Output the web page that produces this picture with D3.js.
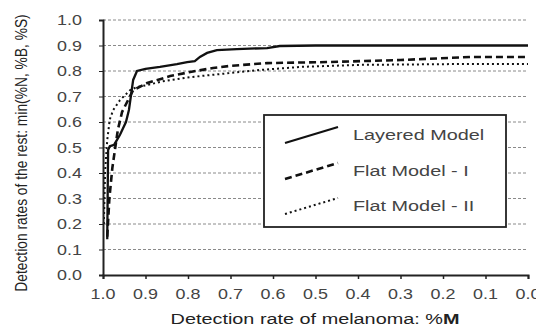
<!DOCTYPE html>
<html>
<head>
<meta charset="utf-8">
<script src="https://cdn.jsdelivr.net/npm/d3@7"></script>
<style>
  html, body { margin: 0; padding: 0; background: #fff; }
  svg { display: block; font-family: "Liberation Sans", Arial, sans-serif; }
</style>
</head>
<body>
<svg id="chart" width="536" height="329"></svg>
<script>
// Detection rate of melanoma (x) vs. the minimum detection rate of the other classes (y)
const xTicks = [1.0, 0.9, 0.8, 0.7, 0.6, 0.5, 0.4, 0.3, 0.2, 0.1, 0.0];
const yTicks = [0.0, 0.1, 0.2, 0.3, 0.4, 0.5, 0.6, 0.7, 0.8, 0.9, 1.0];

const layeredM    = [0.99, 0.988, 0.984, 0.974, 0.96, 0.946, 0.939, 0.934, 0.929, 0.92, 0.90, 0.866, 0.826, 0.802, 0.784, 0.772, 0.755, 0.732, 0.685, 0.614, 0.584, 0.5, 0.0];
const layeredRest = [0.14, 0.49, 0.505, 0.51, 0.55, 0.60, 0.647, 0.706, 0.765, 0.80, 0.808, 0.816, 0.827, 0.835, 0.839, 0.855, 0.871, 0.882, 0.886, 0.89, 0.898, 0.9, 0.9];

const flat1M    = [0.99, 0.985, 0.978, 0.972, 0.965, 0.955, 0.941, 0.929, 0.896, 0.842, 0.795, 0.741, 0.701, 0.614, 0.473, 0.30, 0.136, 0.0];
const flat1Rest = [0.15, 0.30, 0.42, 0.49, 0.57, 0.64, 0.686, 0.725, 0.753, 0.78, 0.796, 0.812, 0.82, 0.831, 0.835, 0.843, 0.855, 0.855];

const flat2M    = [0.998, 0.995, 0.99, 0.984, 0.976, 0.96, 0.936, 0.92, 0.896, 0.859, 0.795, 0.748, 0.701, 0.631, 0.536, 0.395, 0.184, 0.0];
const flat2Rest = [0.20, 0.41, 0.53, 0.61, 0.647, 0.686, 0.725, 0.737, 0.745, 0.76, 0.776, 0.784, 0.792, 0.804, 0.816, 0.824, 0.827, 0.827];

const seriesNames = ["Layered Model", "Flat Model - I", "Flat Model - II"];

const svg = d3.select("#chart");
const x = d3.scaleLinear().domain([1, 0]).range([103, 528]);
const y = d3.scaleLinear().domain([0, 1]).range([275, 20]);
const SX = 1.28; // glyphs are drawn a little wider than tall

// horizontal grid
svg.append("g").selectAll("line")
  .data(yTicks.filter(d => d > 0))
  .join("line")
  .attr("x1", x(1)).attr("x2", x(0))
  .attr("y1", d => y(d)).attr("y2", d => y(d))
  .attr("stroke", "#8a8a8a").attr("stroke-width", 1)
  .attr("stroke-dasharray", "3,2");

// series
const series = [
  { m: layeredM, r: layeredRest, dash: null, w: 2.3 },
  { m: flat1M, r: flat1Rest, dash: "7,4", w: 2.6 },
  { m: flat2M, r: flat2Rest, dash: "2,3", w: 2.0 }
];
const line = d3.line().x(d => x(d[0])).y(d => y(d[1]));
series.forEach(s => {
  svg.append("path")
    .datum(s.m.map((v, i) => [v, s.r[i]]))
    .attr("d", line)
    .attr("fill", "none")
    .attr("stroke", "#111")
    .attr("stroke-width", s.w)
    .attr("stroke-dasharray", s.dash);
});

// axes
const xAxis = d3.axisBottom(x).tickValues(xTicks).tickSize(4).tickFormat("");
const gx = svg.append("g").attr("transform", `translate(0,${y(0)})`).call(xAxis);
gx.select(".domain").attr("stroke", "#222").attr("stroke-width", 2);
gx.selectAll(".tick line").attr("stroke", "#222").attr("stroke-width", 1.5);

const yAxis = d3.axisLeft(y).tickValues(yTicks).tickSize(4).tickFormat("");
const gy = svg.append("g").attr("transform", `translate(${x(1)},0)`).call(yAxis);
gy.select(".domain").attr("stroke", "#222").attr("stroke-width", 2);
gy.selectAll(".tick line").attr("stroke", "#222").attr("stroke-width", 1);

// tick labels
const fmt = d3.format(".1f");
svg.append("g").selectAll("text")
  .data(xTicks)
  .join("text")
  .attr("transform", d => `translate(${x(d)},299) scale(${SX},1)`)
  .attr("text-anchor", "middle")
  .attr("font-size", 14)
  .attr("fill", "#444")
  .text(fmt);

svg.append("g").selectAll("text")
  .data(yTicks)
  .join("text")
  .attr("transform", d => `translate(82,${y(d) + 5}) scale(${SX},1)`)
  .attr("text-anchor", "end")
  .attr("font-size", 14)
  .attr("fill", "#444")
  .text(fmt);

// axis titles
const xt = svg.append("text")
  .attr("transform", `translate(315,324) scale(${SX},1)`)
  .attr("text-anchor", "middle")
  .attr("font-size", 15.5)
  .attr("fill", "#222");
xt.append("tspan").text("Detection rate of melanoma: %");
xt.append("tspan").attr("font-weight", "bold").text("M");

svg.append("text")
  .attr("transform", `translate(27,153) scale(1.15,1) rotate(-90)`)
  .attr("text-anchor", "middle")
  .attr("font-size", 13.8)
  .attr("fill", "#222")
  .text("Detection rates of the rest: min(%N, %B, %S)");

// legend
const lg = svg.append("g");
lg.append("rect")
  .attr("x", 264).attr("y", 115).attr("width", 242).attr("height", 112)
  .attr("fill", "#fff").attr("stroke", "#222").attr("stroke-width", 1.8);
const rowY = [135, 171, 206];
series.forEach((s, i) => {
  lg.append("line")
    .attr("x1", 285).attr("y1", rowY[i] + 8)
    .attr("x2", 338).attr("y2", rowY[i] - 8)
    .attr("stroke", "#111").attr("stroke-width", s.w)
    .attr("stroke-dasharray", s.dash);
  lg.append("text")
    .attr("transform", `translate(353,${rowY[i] + 5}) scale(${SX},1)`)
    .attr("font-size", 15.5)
    .attr("fill", "#444")
    .text(seriesNames[i]);
});
</script>
</body>
</html>
